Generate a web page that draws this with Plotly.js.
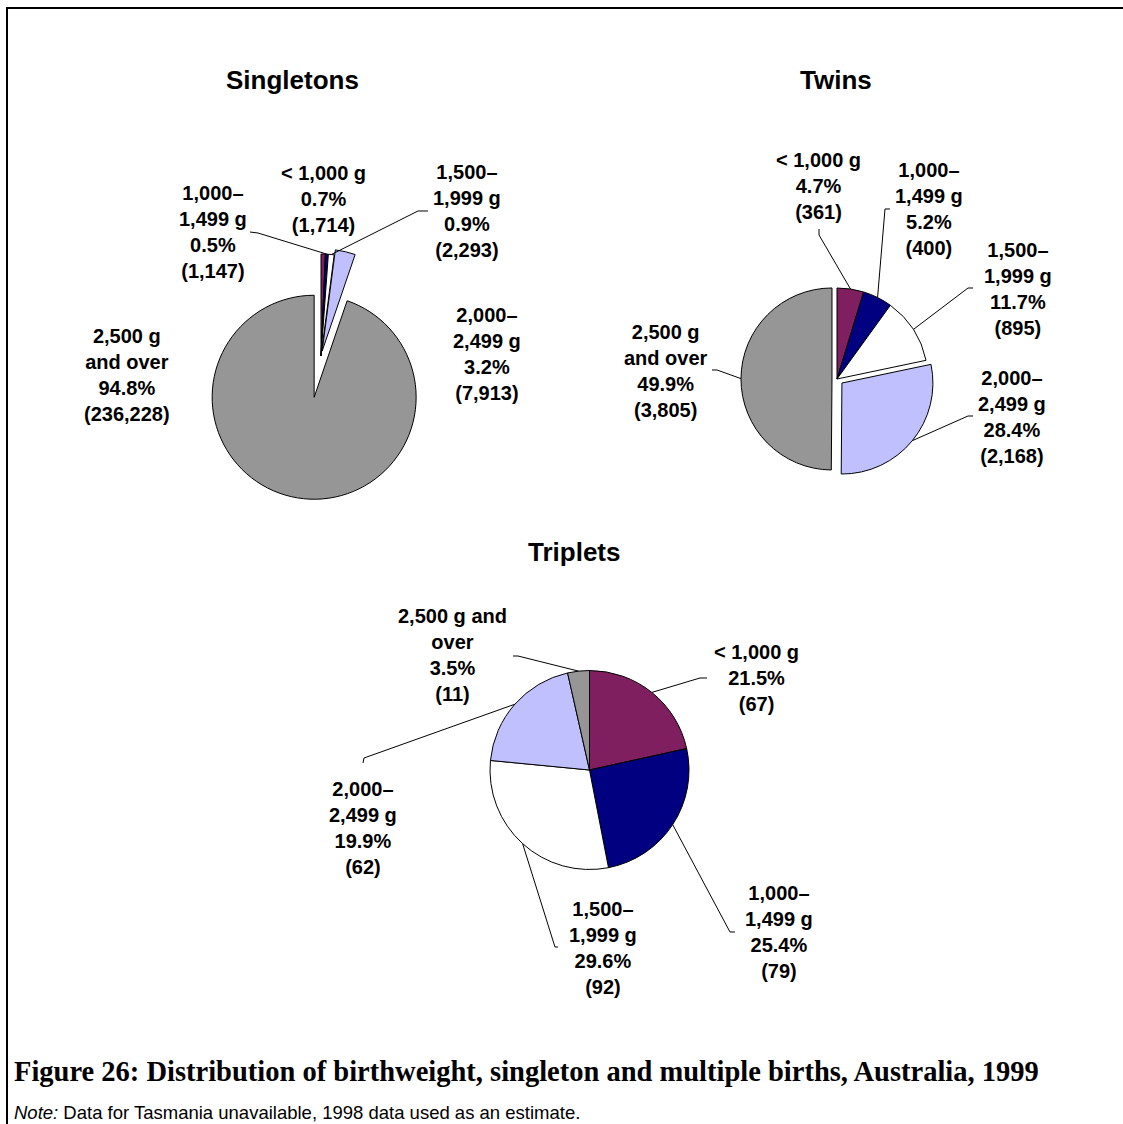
<!DOCTYPE html>
<html>
<head>
<meta charset="utf-8">
<script src="https://cdn.plot.ly/plotly-3.0.1.min.js"></script>
<style>html,body{margin:0;padding:0;background:#fff;}#chart{width:1123px;height:1124px;}</style>
</head>
<body>
<div id="chart"></div>
<script>
// ---------------- DATA ----------------
const categories = ["< 1,000 g", "1,000–1,499 g", "1,500–1,999 g", "2,000–2,499 g", "2,500 g and over"];
const singletons = [1714, 1147, 2293, 7913, 236228];
const twins = [361, 400, 895, 2168, 3805];
const triplets = [67, 79, 92, 62, 11];
const pieTitles = ["Singletons", "Twins", "Triplets"];
const singletonLabels = ["< 1,000 g", "1,000–<br>1,499 g", "1,500–<br>1,999 g", "2,000–<br>2,499 g", "2,500 g<br>and over"];
const twinLabels = ["< 1,000 g", "1,000–<br>1,499 g", "1,500–<br>1,999 g", "2,000–<br>2,499 g", "2,500 g<br>and over"];
const tripletLabels = ["< 1,000 g", "1,000–<br>1,499 g", "1,500–<br>1,999 g", "2,000–<br>2,499 g", "2,500 g and<br>over"];
const sliceColors = ["#7F1F5F", "#000080", "#FFFFFF", "#C0C0FF", "#969696"];
const captionText = "Figure 26: Distribution of birthweight, singleton and multiple births, Australia, 1999";
const noteText = "<i>Note:</i> Data for Tasmania unavailable, 1998 data used as an estimate.";

// ---------------- LAYOUT GEOMETRY (pixels) ----------------
const W = 1123, H = 1124;
const px = x => x / W;
const py = y => 1 - y / H;

const pies = [
  { values: singletons, labels: singletonLabels, cx: 321, cy: 356, r: 102, pull: [0, 0, 0, 0.05, 0.41],
    title: { x: 292, y: 80 },
    lab: [ {x: 323, y: 199}, {x: 213, y: 232}, {x: 467, y: 211}, {x: 487, y: 354}, {x: 127, y: 375} ],
    lead: [ null, [[250,232],[258,233]], [[428,211],[418,211]], null, null ] },
  { values: twins, labels: twinLabels, cx: 837, cy: 379, r: 91, pull: [0, 0, 0, 0.07, 0.055],
    title: { x: 836, y: 80 },
    lab: [ {x: 818, y: 186}, {x: 929, y: 209}, {x: 1018, y: 289}, {x: 1012, y: 417}, {x: 666, y: 371} ],
    lead: [ [[819,229],[819,235]], [[890,209],[885,209]], [[973,288],[968,288]], [[973,416],[968,416]], [[712,370],[717,370]] ] },
  { values: triplets, labels: tripletLabels, cx: 589.5, cy: 770, r: 99.5, pull: [0, 0, 0, 0, 0],
    title: { x: 574, y: 552 },
    lab: [ {x: 757, y: 678}, {x: 779, y: 932}, {x: 603, y: 948}, {x: 363, y: 828}, {x: 452, y: 655} ],
    lead: [ [[707,678],[700,678]], [[735,932],[730,932]], [[558,947],[555,947]], [[363,763],[364,758]], [[513,656],[518,656]] ] }
];

const LABEL_FONT = { family: "Liberation Sans, Arial, sans-serif", size: 20, color: "#000" };

const data = [];
const annotations = [];
const shapes = [];

pies.forEach((p, k) => {
  const maxPull = Math.max(...p.pull);
  const half = p.r * (1 + maxPull);
  data.push({
    type: "pie",
    values: p.values,
    labels: categories,
    sort: false,
    direction: "clockwise",
    rotation: 0,
    pull: p.pull,
    textinfo: "none",
    hoverinfo: "skip",
    showlegend: false,
    marker: { colors: sliceColors, line: { color: "#000", width: 1 } },
    domain: { x: [px(p.cx - half), px(p.cx + half)], y: [py(p.cy + half), py(p.cy - half)] }
  });

  annotations.push({
    text: "<b>" + pieTitles[k] + "</b>", xref: "paper", yref: "paper",
    x: px(p.title.x), y: py(p.title.y), xanchor: "center", yanchor: "middle",
    showarrow: false, font: { family: "Liberation Sans, Arial, sans-serif", size: 26, color: "#000" }
  });

  const total = p.values.reduce((a, b) => a + b, 0);
  let cum = 0;
  p.values.forEach((v, i) => {
    const pct = (100 * v / total).toFixed(1) + "%";
    const txt = "<b>" + p.labels[i] + "<br>" + pct + "<br>(" + v.toLocaleString("en-US") + ")</b>";
    annotations.push({
      text: txt, xref: "paper", yref: "paper",
      x: px(p.lab[i].x), y: py(p.lab[i].y), xanchor: "center", yanchor: "middle",
      align: "center", showarrow: false, font: LABEL_FONT
    });
    const theta = 2 * Math.PI * (cum + v / 2) / total;
    cum += v;
    if (p.lead[i]) {
      const rr = p.r * (1 + p.pull[i]);
      const ex = p.cx + rr * Math.sin(theta);
      const ey = p.cy - rr * Math.cos(theta);
      const pts = p.lead[i].concat([[ex, ey]]);
      const path = pts.map((q, j) => (j ? "L" : "M") + px(q[0]).toFixed(5) + "," + py(q[1]).toFixed(5)).join(" ");
      shapes.push({ type: "path", xref: "paper", yref: "paper", path: path, line: { color: "#000", width: 1 } });
    }
  });
});

// frame lines
shapes.push({ type: "line", xref: "paper", yref: "paper", x0: px(6), x1: px(1123), y0: py(8), y1: py(8), line: { color: "#000", width: 2 } });
shapes.push({ type: "line", xref: "paper", yref: "paper", x0: px(7), x1: px(7), y0: py(7), y1: py(1124), line: { color: "#000", width: 2 } });

annotations.push({
  text: "<b>" + captionText + "</b>", xref: "paper", yref: "paper",
  x: px(12), y: py(1071), xanchor: "left", yanchor: "middle", showarrow: false,
  font: { family: "Liberation Serif, Times New Roman, serif", size: 28.5, color: "#000" }
});
annotations.push({
  text: noteText, xref: "paper", yref: "paper",
  x: px(12), y: py(1112), xanchor: "left", yanchor: "middle", showarrow: false,
  font: { family: "Liberation Sans, Arial, sans-serif", size: 18.5, color: "#000" }
});

const layout = {
  width: W, height: H,
  margin: { l: 0, r: 0, t: 0, b: 0 },
  paper_bgcolor: "#fff", plot_bgcolor: "#fff",
  showlegend: false,
  annotations: annotations,
  shapes: shapes
};

Plotly.newPlot("chart", data, layout, { displayModeBar: false, staticPlot: true });
</script>
</body>
</html>
